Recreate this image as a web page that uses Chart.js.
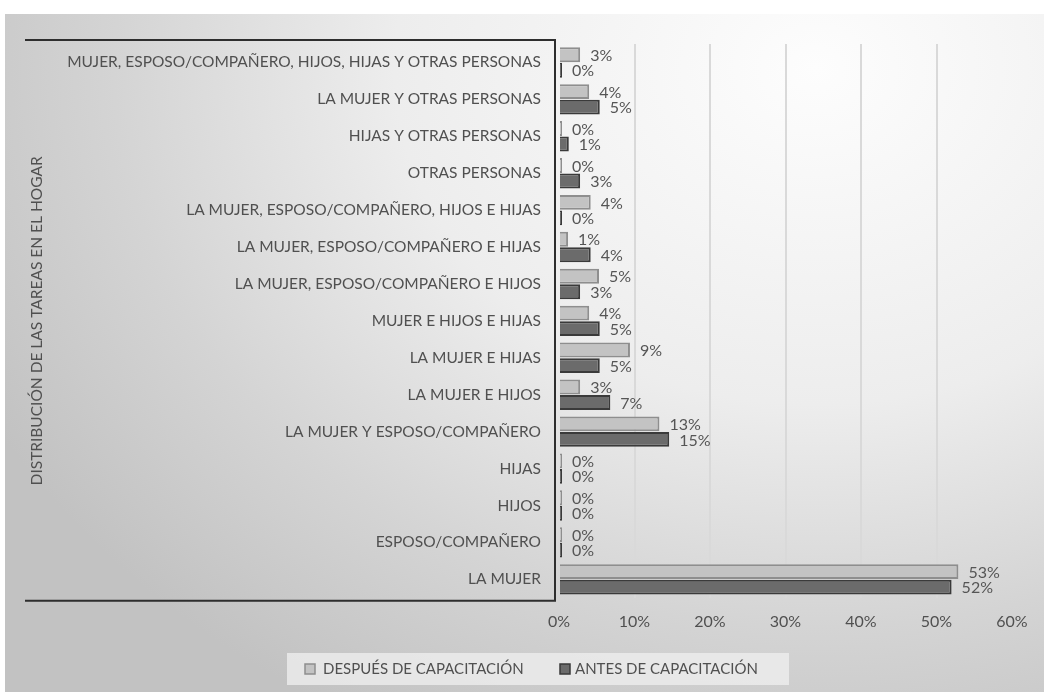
<!DOCTYPE html>
<html>
<head>
<meta charset="utf-8">
<script src="https://cdn.jsdelivr.net/npm/chart.js@4.4.0/dist/chart.umd.min.js"></script>
<style>
  html, body { margin: 0; padding: 0; background: #fff; }
  #wrap {
    position: absolute; left: 5px; top: 14px; width: 1039px; height: 678px;
    background: radial-gradient(ellipse 90% 110% at 78% 8%, #fdfdfd 0%, #ededed 45%, #d4d4d4 75%, #c2c2c2 100%);
  }
  canvas { display: block; }
</style>
</head>
<body>
<div id="wrap"><canvas id="tareas" width="1039" height="678"></canvas></div>
<script>
// Categories (top to bottom) and the two series, in %
const categorias = [
  'MUJER, ESPOSO/COMPAÑERO, HIJOS, HIJAS Y OTRAS PERSONAS',
  'LA MUJER Y OTRAS PERSONAS',
  'HIJAS Y OTRAS PERSONAS',
  'OTRAS PERSONAS',
  'LA MUJER, ESPOSO/COMPAÑERO, HIJOS E HIJAS',
  'LA MUJER, ESPOSO/COMPAÑERO E HIJAS',
  'LA MUJER, ESPOSO/COMPAÑERO E HIJOS',
  'MUJER E HIJOS E HIJAS',
  'LA MUJER E HIJAS',
  'LA MUJER E HIJOS',
  'LA MUJER Y ESPOSO/COMPAÑERO',
  'HIJAS',
  'HIJOS',
  'ESPOSO/COMPAÑERO',
  'LA MUJER'
];
const despues = [2.8, 4.0, 0, 0, 4.2, 1.2, 5.3, 4.0, 9.4, 2.8, 13.3, 0, 0, 0, 52.9];
const antes   = [0, 5.4, 1.3, 2.8, 0, 4.2, 2.8, 5.4, 5.4, 6.8, 14.6, 0, 0, 0, 52.0];
const ticksX  = [0, 10, 20, 30, 40, 50, 60];

const FONT = 'Lato, "Open Sans", sans-serif';
const TXT = '#505050';

// dark frame around the category labels
const marco = {
  id: 'marco',
  beforeDatasetsDraw(chart) {
    const c = chart.ctx, a = chart.chartArea;
    const x = a.left - 4, top = a.top - 4, bot = a.bottom + 3;
    c.save();
    c.strokeStyle = '#2e2e2e';
    c.lineWidth = 2;
    c.beginPath();
    c.moveTo(20, top); c.lineTo(x, top); c.lineTo(x, bot); c.lineTo(20, bot);
    c.stroke();
    c.restore();
  }
};

// legend drawn by hand, on its light box
const leyenda = {
  id: 'leyenda',
  afterDraw(chart) {
    const c = chart.ctx;
    const y = 655;
    const items = [{ x: 300, tx: 318 }, { x: 555, tx: 570 }];
    c.save();
    c.fillStyle = 'rgba(238,238,238,0.8)';
    c.fillRect(282, 639, 502, 32);
    c.font = '15px ' + FONT;
    c.textBaseline = 'middle';
    c.textAlign = 'left';
    chart.data.datasets.forEach((ds, i) => {
      const it = items[i];
      c.fillStyle = ds.backgroundColor;
      c.strokeStyle = ds.borderColor;
      c.lineWidth = 1.5;
      c.fillRect(it.x, y - 5, 10, 10);
      c.strokeRect(it.x, y - 5, 10, 10);
      c.fillStyle = TXT;
      c.fillText(ds.label, it.tx, y);
    });
    c.restore();
  }
};

// percentage labels next to the bars
const etiquetas = {
  id: 'etiquetas',
  afterDatasetsDraw(chart) {
    const c = chart.ctx;
    c.save();
    c.font = '16px ' + FONT;
    c.fillStyle = '#555';
    c.textBaseline = 'middle';
    c.textAlign = 'left';
    chart.data.datasets.forEach((ds, i) => {
      chart.getDatasetMeta(i).data.forEach((el, j) => {
        c.fillText(Math.round(ds.data[j]) + '%', el.x + 10, el.y + 1);
      });
    });
    c.restore();
  }
};

new Chart(document.getElementById('tareas'), {
  type: 'bar',
  data: {
    labels: categorias,
    datasets: [
      {
        label: 'DESPUÉS DE CAPACITACIÓN',
        data: despues,
        backgroundColor: '#c3c3c3',
        borderColor: '#8e8e8e',
        borderWidth: 2,
        borderSkipped: 'left',
        minBarLength: 3
      },
      {
        label: 'ANTES DE CAPACITACIÓN',
        data: antes,
        backgroundColor: '#6b6b6b',
        borderColor: '#3a3a3a',
        borderWidth: 2,
        borderSkipped: 'left',
        minBarLength: 3
      }
    ]
  },
  options: {
    indexAxis: 'y',
    responsive: false,
    animation: false,
    layout: { padding: { left: 20, top: 30, right: 32, bottom: 47 } },
    datasets: { bar: { categoryPercentage: 0.84, barPercentage: 0.96 } },
    scales: {
      x: {
        min: 0,
        max: 60,
        afterBuildTicks: s => { s.ticks = ticksX.map(v => ({ value: v })); },
        ticks: {
          callback: v => v + '%',
          color: TXT,
          font: { family: FONT, size: 16 },
          padding: 14
        },
        grid: {
          color: ctx => (ctx.tick && (ctx.tick.value === 0 || ctx.tick.value === 60)) ? 'rgba(0,0,0,0)' : '#d9d9d9',
          lineWidth: 2,
          drawTicks: false
        },
        border: { display: false }
      },
      y: {
        afterFit: s => { s.width = 534; },
        ticks: {
          color: TXT,
          font: { family: FONT, size: 15.5 },
          padding: 18,
          autoSkip: false
        },
        grid: { display: false, drawTicks: false },
        border: { display: false },
        title: {
          display: true,
          text: 'DISTRIBUCIÓN DE LAS TAREAS EN EL HOGAR',
          color: TXT,
          font: { family: FONT, size: 15.5 },
          padding: { top: 3, bottom: 0 }
        }
      }
    },
    plugins: {
      legend: { display: false },
      tooltip: { enabled: false }
    }
  },
  plugins: [marco, etiquetas, leyenda]
});
</script>
</body>
</html>
